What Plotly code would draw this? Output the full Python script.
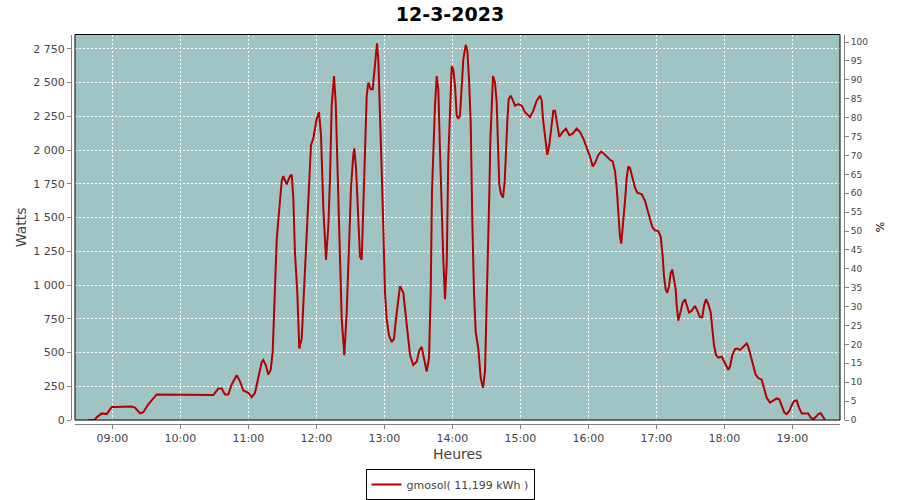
import plotly.graph_objects as go

DAY = "2023-03-12"

times = [
    "08:38:49", "08:44:18", "08:46:14", "08:50:39", "08:55:04", "08:59:28", "09:02:23", "09:17:07",
    "09:20:02", "09:24:26", "09:27:21", "09:31:46", "09:39:11", "10:26:13", "10:29:07", "10:33:32",
    "10:36:32", "10:39:26", "10:42:21", "10:45:21", "10:49:46", "10:52:41", "10:55:35", "11:00:00",
    "11:03:00", "11:05:55", "11:08:49", "11:11:49", "11:13:14", "11:15:37", "11:17:39", "11:19:46",
    "11:21:32", "11:22:41", "11:23:34", "11:25:04", "11:26:28", "11:27:58", "11:29:28", "11:30:53",
    "11:33:53", "11:36:47", "11:38:17", "11:39:42", "11:41:12", "11:43:14", "11:45:00", "11:47:07",
    "11:49:09", "11:51:32", "11:53:34", "11:55:19", "11:57:21", "12:00:21", "12:02:23", "12:04:09",
    "12:06:11", "12:08:34", "12:10:35", "12:12:05", "12:13:35", "12:15:37", "12:17:07", "12:18:00",
    "12:19:25", "12:20:55", "12:22:25", "12:24:43", "12:26:49", "12:28:51", "12:30:37", "12:32:39",
    "12:33:32", "12:35:02", "12:37:04", "12:38:34", "12:40:04", "12:41:28", "12:42:58", "12:44:28",
    "12:45:53", "12:48:00", "12:49:46", "12:51:11", "12:52:25", "12:53:34", "12:54:43", "12:56:13",
    "12:57:43", "12:59:07", "13:00:37", "13:02:07", "13:04:09", "13:06:32", "13:08:34", "13:10:19",
    "13:12:21", "13:13:51", "13:16:46", "13:19:46", "13:22:41", "13:25:35", "13:28:35", "13:30:53",
    "13:33:00", "13:34:25", "13:37:25", "13:39:26", "13:40:56", "13:42:05", "13:43:14", "13:44:44",
    "13:46:14", "13:47:39", "13:49:09", "13:50:39", "13:52:04", "13:53:34", "13:55:04", "13:56:28",
    "13:57:58", "13:59:28", "14:00:53", "14:02:23", "14:03:53", "14:05:18", "14:06:47", "14:08:17",
    "14:09:42", "14:11:49", "14:13:14", "14:14:44", "14:16:14", "14:17:39", "14:19:09", "14:20:39",
    "14:22:56", "14:25:04", "14:27:05", "14:28:51", "14:30:21", "14:31:46", "14:32:39", "14:33:32",
    "14:34:46", "14:35:55", "14:37:41", "14:39:11", "14:40:19", "14:41:28", "14:42:58", "14:44:44",
    "14:46:14", "14:47:23", "14:48:32", "14:49:46", "14:51:32", "14:52:56", "14:55:19", "14:58:14",
    "15:01:14", "15:04:09", "15:08:34", "15:11:28", "15:14:28", "15:17:23", "15:18:53", "15:20:00",
    "15:21:48", "15:23:49", "15:25:35", "15:27:05", "15:29:07", "15:30:37", "15:32:07", "15:34:25",
    "15:37:25", "15:40:19", "15:43:14", "15:46:14", "15:49:46", "15:52:41", "15:55:35", "15:58:35",
    "16:01:30", "16:03:53", "16:05:55", "16:08:49", "16:11:12", "16:13:14", "16:16:14", "16:19:09",
    "16:21:32", "16:23:34", "16:25:04", "16:26:28", "16:27:58", "16:29:07", "16:30:53", "16:32:23",
    "16:33:53", "16:35:18", "16:36:47", "16:39:11", "16:41:12", "16:43:14", "16:47:07", "16:50:02",
    "16:52:04", "16:54:26", "16:56:28", "16:58:51", "17:01:46", "17:03:53", "17:05:39", "17:06:47",
    "17:08:17", "17:09:42", "17:11:12", "17:12:42", "17:14:07", "17:15:37", "17:17:07", "17:18:00",
    "17:19:25", "17:20:55", "17:23:18", "17:25:19", "17:26:49", "17:28:51", "17:31:14", "17:34:09",
    "17:36:11", "17:38:34", "17:40:35", "17:42:05", "17:43:51", "17:45:53", "17:48:00", "17:49:25",
    "17:50:55", "17:52:41", "17:54:43", "17:57:43", "18:00:37", "18:03:32", "18:05:02", "18:07:04",
    "18:09:26", "18:11:28", "18:13:51", "18:16:46", "18:19:46", "18:21:11", "18:23:18", "18:25:35",
    "18:27:43", "18:30:00", "18:33:00", "18:35:02", "18:37:25", "18:40:19", "18:43:14", "18:46:14",
    "18:48:32", "18:50:39", "18:52:56", "18:55:04", "18:57:21", "18:59:28", "19:01:30", "19:03:53",
    "19:05:55", "19:08:17", "19:11:12", "19:14:07", "19:16:14", "19:18:32", "19:20:55", "19:22:56",
    "19:25:04", "19:26:49", "19:28:51",
]

watts = [
    0, 0, 20, 49, 44, 97, 97, 100,
    92, 49, 58, 117, 190, 190, 185, 233,
    233, 190, 190, 263, 331, 287, 219, 202,
    170, 202, 323, 428, 445, 404, 336, 372,
    505, 797, 992, 1333, 1478, 1624, 1770, 1807,
    1746, 1807, 1818, 1648, 1235, 943, 530, 603,
    943, 1381, 1770, 2037, 2086, 2232, 2281, 2110,
    1576, 1187, 1430, 1794, 2329, 2548, 2354, 2086,
    1576, 1187, 749, 481, 797, 1284, 1721, 1964,
    2013, 1867, 1503, 1211, 1187, 1624, 2037, 2402,
    2499, 2451, 2451, 2573, 2694, 2791, 2670, 2159,
    1843, 1430, 943, 749, 627, 578, 603, 749,
    919, 992, 943, 700, 481, 408, 432, 518,
    542, 481, 360, 457, 943, 1697, 2037, 2329,
    2548, 2451, 1989, 1527, 1187, 895, 1162, 1940,
    2281, 2621, 2597, 2475, 2256, 2232, 2256, 2451,
    2670, 2779, 2742, 2524, 2208, 1478, 943, 651,
    530, 311, 239, 360, 822, 1235, 1673, 2062,
    2354, 2548, 2499, 2354, 2037, 1746, 1673, 1648,
    1770, 2037, 2208, 2378, 2402, 2378, 2329, 2341,
    2329, 2281, 2244, 2292, 2366, 2402, 2366, 2232,
    2110, 1964, 2037, 2159, 2292, 2292, 2208, 2098,
    2134, 2159, 2110, 2122, 2159, 2134, 2086, 2025,
    1952, 1879, 1904, 1964, 1989, 1977, 1952, 1928,
    1916, 1843, 1721, 1503, 1357, 1308, 1454, 1624,
    1794, 1879, 1867, 1794, 1721, 1685, 1673, 1624,
    1551, 1490, 1430, 1405, 1400, 1357, 1211, 1065,
    968, 943, 992, 1089, 1114, 1041, 968, 846,
    737, 786, 870, 895, 858, 797, 810, 846,
    810, 761, 761, 846, 895, 858, 797, 676,
    554, 481, 462, 469, 421, 372, 396, 481,
    525, 530, 518, 542, 567, 542, 481, 408,
    336, 311, 299, 238, 165, 129, 146, 160,
    153, 104, 56, 44, 68, 109, 141, 146,
    92, 49, 49, 49, 19, 7, 24, 44,
    51, 31, 0,
]

series_name = "gmosol( 11,199 kWh )"
chart_title = "12-3-2023"
peak_watts = 2800  # 100 % on the right axis

x_vals = [f"{DAY} {t}" for t in times]
percent = [w / peak_watts * 100 for w in watts]

FONT = "DejaVu Sans"
TXT = "#444444"
AX = "#808080"

W, H = 900, 500


def fx(px):
    return px / W


def fy(py):
    return 1 - py / H


fig = go.Figure()
fig.add_trace(go.Scatter(
    x=x_vals, y=watts, mode="lines", name=series_name,
    line=dict(color="#B40000", width=2), xaxis="x", yaxis="y",
))
fig.add_trace(go.Scatter(
    x=x_vals, y=percent, mode="lines", showlegend=False, opacity=0,
    hoverinfo="skip", line=dict(width=1, color="#B40000"), xaxis="x", yaxis="y2",
))

fig.update_layout(
    width=W, height=H,
    paper_bgcolor="white", plot_bgcolor="#9FC4C3",
    margin=dict(l=0, r=0, t=0, b=0, pad=0),
    separators=", ",
    font=dict(family=FONT, color=TXT, size=11),
    title=dict(text=chart_title, x=fx(450), xanchor="center", y=fy(14), yanchor="middle",
               font=dict(family=FONT, size=19, color="black", weight="bold")),
    xaxis=dict(
        type="date", domain=[fx(75), fx(840)], anchor="free", position=fy(430),
        range=[f"{DAY} 08:27:05", f"{DAY} 19:42:05"],
        dtick=3600000, tick0=f"{DAY} 09:00:00", tickformat="%H:%M",
        showgrid=True, gridcolor="white", griddash="2px,2px", gridwidth=1,
        showline=True, linecolor=AX, linewidth=1,
        ticks="outside", ticklen=4, tickcolor=AX,
        tickfont=dict(family=FONT, size=11, color=TXT), zeroline=False,
    ),
    yaxis=dict(
        domain=[fy(426), fy(35)], anchor="free", position=fx(71),
        range=[0, peak_watts * 1.02], dtick=250, tickformat=",d",
        showgrid=True, gridcolor="white", griddash="2px,2px", gridwidth=1,
        showline=True, linecolor=AX, linewidth=1,
        ticks="outside", ticklen=4, tickcolor=AX,
        tickfont=dict(family=FONT, size=11, color=TXT), zeroline=False,
    ),
    yaxis2=dict(
        overlaying="y", side="right", anchor="free", position=fx(844),
        range=[0, 102], dtick=5, showgrid=False, zeroline=False,
        showline=True, linecolor=AX, linewidth=1,
        ticks="outside", ticklen=4, tickcolor=AX,
        tickfont=dict(family=FONT, size=9, color=TXT),
    ),
    showlegend=True,
    legend=dict(
        orientation="h", x=fx(450), xanchor="center", y=fy(476), yanchor="top",
        bordercolor="black", borderwidth=1, bgcolor="white",
        font=dict(family=FONT, size=11, color=TXT),
    ),
    shapes=[dict(type="rect", xref="x domain", yref="y domain", x0=0, x1=1, y0=0, y1=1,
                 line=dict(color="black", width=1), fillcolor="rgba(0,0,0,0)", layer="above")],
    annotations=[
        dict(text="Watts", xref="paper", yref="paper", x=fx(21), y=fy(230.5),
             xanchor="center", yanchor="middle", textangle=-90, showarrow=False,
             font=dict(family=FONT, size=14, color=TXT)),
        dict(text="Heures", xref="paper", yref="paper", x=fx(457.5), y=fy(460),
             xanchor="center", yanchor="middle", showarrow=False,
             font=dict(family=FONT, size=14, color=TXT)),
        dict(text="%", xref="paper", yref="paper", x=fx(880), y=fy(230.5),
             xanchor="center", yanchor="middle", textangle=-90, showarrow=False,
             font=dict(family=FONT, size=11, color="black")),
    ],
)

# remove the default 8px page margin so the 900x500 figure fills the window
fig.write_html("out.html", config={"displayModeBar": False},
               post_script="document.body.style.margin='0';")
